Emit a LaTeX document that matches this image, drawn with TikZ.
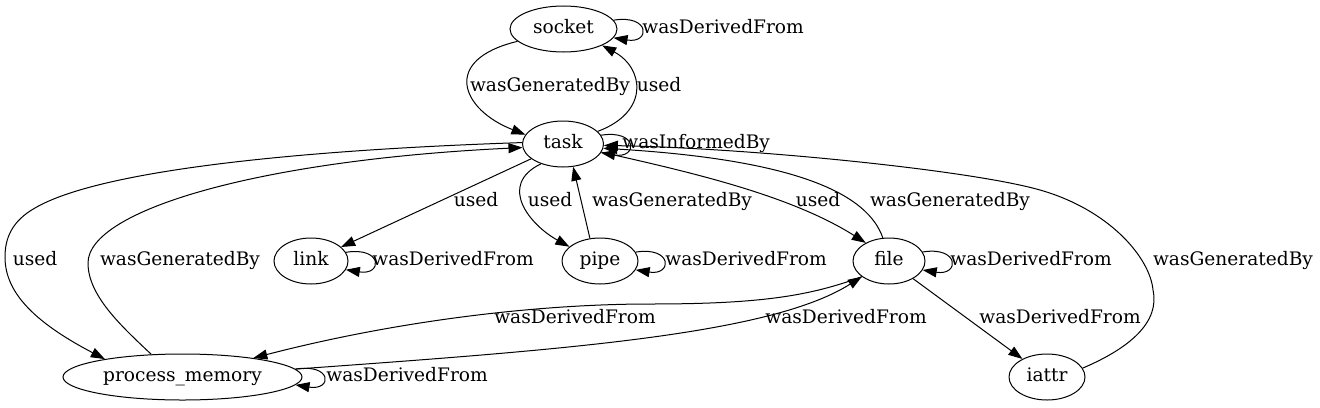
\documentclass[tikz,border=0pt]{standalone}
\usepackage{fontspec}
\setmainfont{DejaVu Serif}
\usetikzlibrary{arrows.meta,shapes.geometric}
\tikzset{
  prov/.style   = {ellipse,draw,line width=0.5pt,inner sep=0pt,minimum height=23pt,
                   text height=6.8pt,text depth=2.2pt},
  rel/.style    = {-{Triangle[length=7pt,width=5pt]},line width=0.5pt},
  rellbl/.style = {inner sep=0pt,text height=6.8pt,text depth=2.2pt}
}
\newcommand{\provloop}[2]{%
  \draw[rel] (#1.#2) .. controls +(37,-6) and +(37,6) .. (#1.-#2);
}

\begin{document}
\begin{tikzpicture}[x=0.5pt,y=-0.5pt,font=\fontsize{9.3}{11}\selectfont]
  \useasboundingbox (0,0) rectangle (1320,407);
  % entities and activities
  \node[prov,minimum width=53.5pt] (socket) at (563.5,29) {socket};
  \node[prov,minimum width=40.5pt] (task)   at (563,144)  {task};
  \node[prov,minimum width=37pt]   (link)   at (311,261)  {link};
  \node[prov,minimum width=38pt]   (pipe)   at (600,261)  {pipe};
  \node[prov,minimum width=36pt]   (file)   at (889,261)  {file};
  \node[prov,minimum width=119.5pt] (pmem)  at (182.5,377) {process\_memory};
  \node[prov,minimum width=38pt]   (iattr)  at (1047,377) {iattr};

  % socket <-> task
  \draw[rel] (socket.195) .. controls (440,60) and (462,110) .. (task.166);
  \draw[rel] (task.20) .. controls (650,112) and (644,68) .. (socket.-23);
  \provloop{socket}{10.4}
  \provloop{task}{13.6}
  \node[rellbl] (l-sock-gen)  at (550,87) {wasGeneratedBy};
  \node[rellbl] (l-sock-used) at (659,87) {used};
  \node[rellbl,anchor=west] (l-sock-loop) at (642,29) {wasDerivedFrom};
  \node[rellbl,anchor=west] (l-task-loop) at (622,144) {wasInformedBy};

  % task -> link, pipe, file
  \draw[rel] (task) -- (link);
  \draw[rel] (task.222) .. controls (497,185) and (530,225) .. (pipe.155);
  \draw[rel] (pipe.114) -- (task.-66);
  \draw[rel] (task.-12) .. controls (690,172) and (790,195) .. (file.142);
  \draw[rel] (file.105) .. controls (868,195) and (800,160) .. (task.-6);
  \node[rellbl] (l-link-used) at (476,202) {used};
  \node[rellbl] (l-pipe-used) at (550,202) {used};
  \node[rellbl] (l-pipe-gen)  at (672,202) {wasGeneratedBy};
  \node[rellbl] (l-file-used) at (818,202) {used};
  \node[rellbl] (l-file-gen)  at (950,202) {wasGeneratedBy};

  % task <-> process_memory
  \draw[rel] (task.178) .. controls (300,150) and (100,170) .. (35,208)
             .. controls (12,221) and (5,238) .. (5,257)
             .. controls (5,290) and (30,320) .. (pmem.167);
  \draw[rel] (pmem.144) .. controls (120,325) and (88,295) .. (88,263)
             .. controls (88,210) and (260,160) .. (task.185);
  \node[rellbl] (l-pmem-used) at (35,261)  {used};
  \node[rellbl] (l-pmem-gen)  at (180,261) {wasGeneratedBy};

  % iattr -> task
  \draw[rel] (iattr.14) .. controls (1130,348) and (1160,322) .. (1153,290)
             .. controls (1150,258) and (1110,210) .. (1040,190)
             .. controls (970,170) and (750,148) .. (task.-2);
  \node[rellbl] (l-iattr-gen) at (1233,261) {wasGeneratedBy};

  % derivations
  \provloop{link}{14.8}
  \provloop{pipe}{14.4}
  \provloop{file}{15.2}
  \provloop{pmem}{4.7}
  \node[rellbl,anchor=west] (l-link-loop) at (372,261) {wasDerivedFrom};
  \node[rellbl,anchor=west] (l-pipe-loop) at (665,261) {wasDerivedFrom};
  \node[rellbl,anchor=west] (l-file-loop) at (950,261) {wasDerivedFrom};
  \node[rellbl,anchor=west] (l-pmem-loop) at (326,377) {wasDerivedFrom};

  \draw[rel] (file.210) .. controls (810,296) and (760,304) .. (650,304)
             .. controls (540,304) and (400,320) .. (pmem.15);
  \draw[rel] (pmem.4) .. controls (560,350) and (770,335) .. (file.210);
  \draw[rel] (file) -- (iattr);
  \node[rellbl] (l-file-pmem) at (575,319)  {wasDerivedFrom};
  \node[rellbl] (l-pmem-file) at (846,319)  {wasDerivedFrom};
  \node[rellbl] (l-file-iattr) at (1060,319) {wasDerivedFrom};
\end{tikzpicture}
\end{document}
